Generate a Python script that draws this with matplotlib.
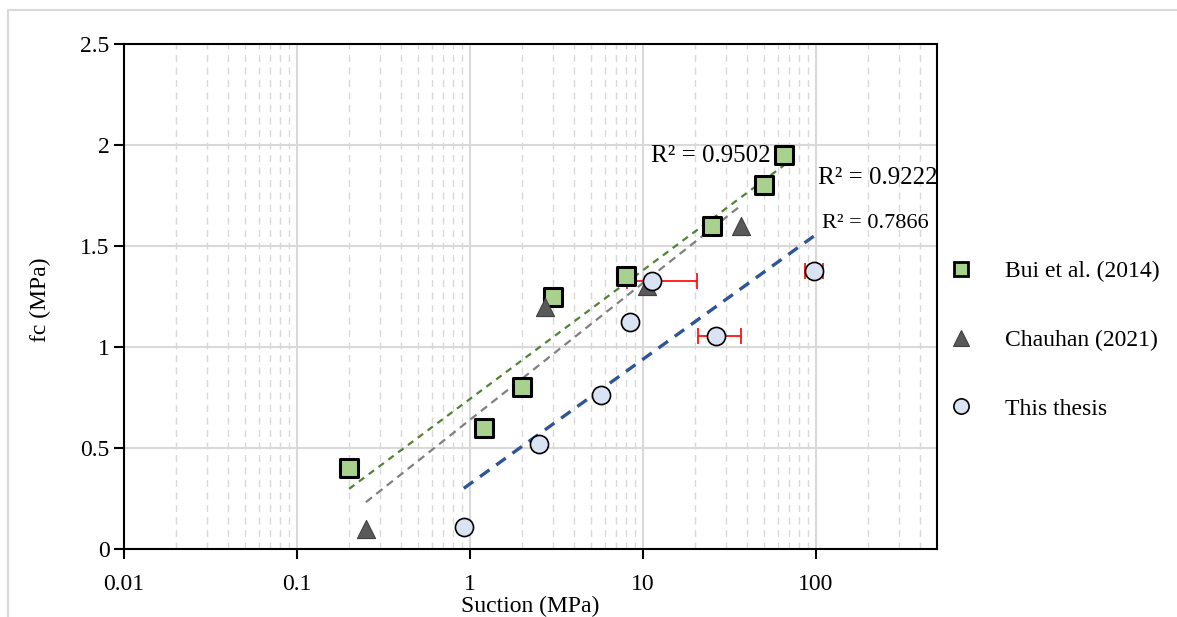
from matplotlib import pyplot as plt
from matplotlib.lines import Line2D
import numpy as np

# data
bui_x = [0.2, 1.2, 2.0, 3.0, 8.0, 25.0, 50.0, 65.0]
bui_y = [0.40, 0.60, 0.80, 1.25, 1.35, 1.60, 1.80, 1.95]

chauhan_x = [0.25, 2.7, 10.6, 37.0]
chauhan_y = [0.10, 1.20, 1.30, 1.60]

thesis_x = [0.92, 2.5, 5.7, 8.4, 11.2, 26.5, 97.0]
thesis_y = [0.11, 0.52, 0.76, 1.125, 1.325, 1.055, 1.375]
thesis_err_lo = [0, 0, 0, 0, 3.1, 5.8, 11.0]
thesis_err_hi = [0, 0, 0, 0, 9.2, 10.2, 13.0]

r2_labels = ["R² = 0.9502", "R² = 0.9222", "R² = 0.7866"]

plt.rcParams['font.family'] = 'Liberation Serif'
fs = 17

fig = plt.figure(figsize=(11.77, 6.17), dpi=100)
ax = fig.add_axes([124/1177, 1-549/617, (937-124)/1177, (549-44)/617])

ax.set_xscale('log')
ax.set_xlim(0.01, 500)
ax.set_ylim(0, 2.5)
ax.set_yticks([0, 0.5, 1, 1.5, 2, 2.5])
ax.set_yticklabels(['0', '0.5', '1', '1.5', '2', '2.5'])
ax.set_xticks([0.01, 0.1, 1, 10, 100])
ax.set_xticklabels(['0.01', '0.1', '1', '10', '100'])
ax.grid(True, which='major', color='#d9d9d9', lw=1.5)
ax.grid(True, which='minor', axis='x', color='#d9d9d9', lw=1, ls=(0, (5, 4)))
ax.tick_params(which='minor', length=0)
ax.tick_params(which='major', length=7, width=1.5, labelsize=fs, direction='out')
ax.tick_params(axis='x', pad=11)
ax.set_axisbelow(True)
for s in ax.spines.values():
    s.set_linewidth(1.5)
    s.set_color('black')

# trendlines (log fits, like Excel)
def trend(x, y, color, lw, dash):
    x = np.array(x)
    a, b = np.polyfit(np.log(x), np.array(y), 1)
    xs = np.logspace(np.log10(x.min()), np.log10(x.max()), 50)
    ax.plot(xs, a*np.log(xs) + b, color=color, lw=lw, ls=(0, dash), zorder=2)

trend(bui_x, bui_y, '#548235', 1.6, (3, 2.5))
trend(chauhan_x, chauhan_y, '#808080', 1.6, (3.5, 2.5))
trend(thesis_x, thesis_y, '#2f5597', 2.4, (3.5, 2.5))

# error bars
ax.errorbar(thesis_x, thesis_y, xerr=[thesis_err_lo, thesis_err_hi], fmt='none',
            ecolor='red', elinewidth=1.2, capsize=6, capthick=1.2, zorder=3)

ax.scatter(bui_x, bui_y, marker='s', s=150, facecolor='#a9d18e', edgecolor='black',
           linewidth=2.2, zorder=4)
ax.scatter(chauhan_x, chauhan_y, marker='^', s=170, facecolor='#595959', edgecolor='#404040',
           linewidth=0.8, zorder=4)
ax.scatter(thesis_x, thesis_y, marker='o', s=170, facecolor='#dae3f3', edgecolor='black',
           linewidth=1.2, zorder=5)

# R² labels
fig.text(711/1177, 1-156/617, r2_labels[0], fontsize=fs + 1, ha='center', va='center')
fig.text(878/1177, 1-178/617, r2_labels[1], fontsize=fs + 1, ha='center', va='center')
fig.text(875/1177, 1-224/617, r2_labels[2], fontsize=fs - 1, ha='center', va='center')

fig.text(40/1177, 1-300/617, 'fc (MPa)', fontsize=fs, rotation=90, ha='center', va='center')
fig.text(530/1177, 1-606/617, 'Suction (MPa)', fontsize=fs, ha='center', va='center')

# legend
handles = [
    Line2D([], [], ls='none', marker='s', ms=10, mfc='#a9d18e', mec='black', mew=2),
    Line2D([], [], ls='none', marker='^', ms=11, mfc='#595959', mec='#404040', mew=0.8),
    Line2D([], [], ls='none', marker='o', ms=11, mfc='#dae3f3', mec='black', mew=1.2),
]
fig.legend(handles, ['Bui et al. (2014)', 'Chauhan (2021)', 'This thesis'],
           loc='center left', bbox_to_anchor=(922/1177, 1-340/617), frameon=False,
           fontsize=fs, labelspacing=2.0, handletextpad=1.1, handlelength=1.5)

# outer border of the chart area
fig.add_artist(Line2D([8/1177, 8/1177, 1], [0, 1-10/617, 1-10/617],
                      transform=fig.transFigure, color='#d9d9d9', lw=1.5))

fig.savefig('out.png', dpi=100)
